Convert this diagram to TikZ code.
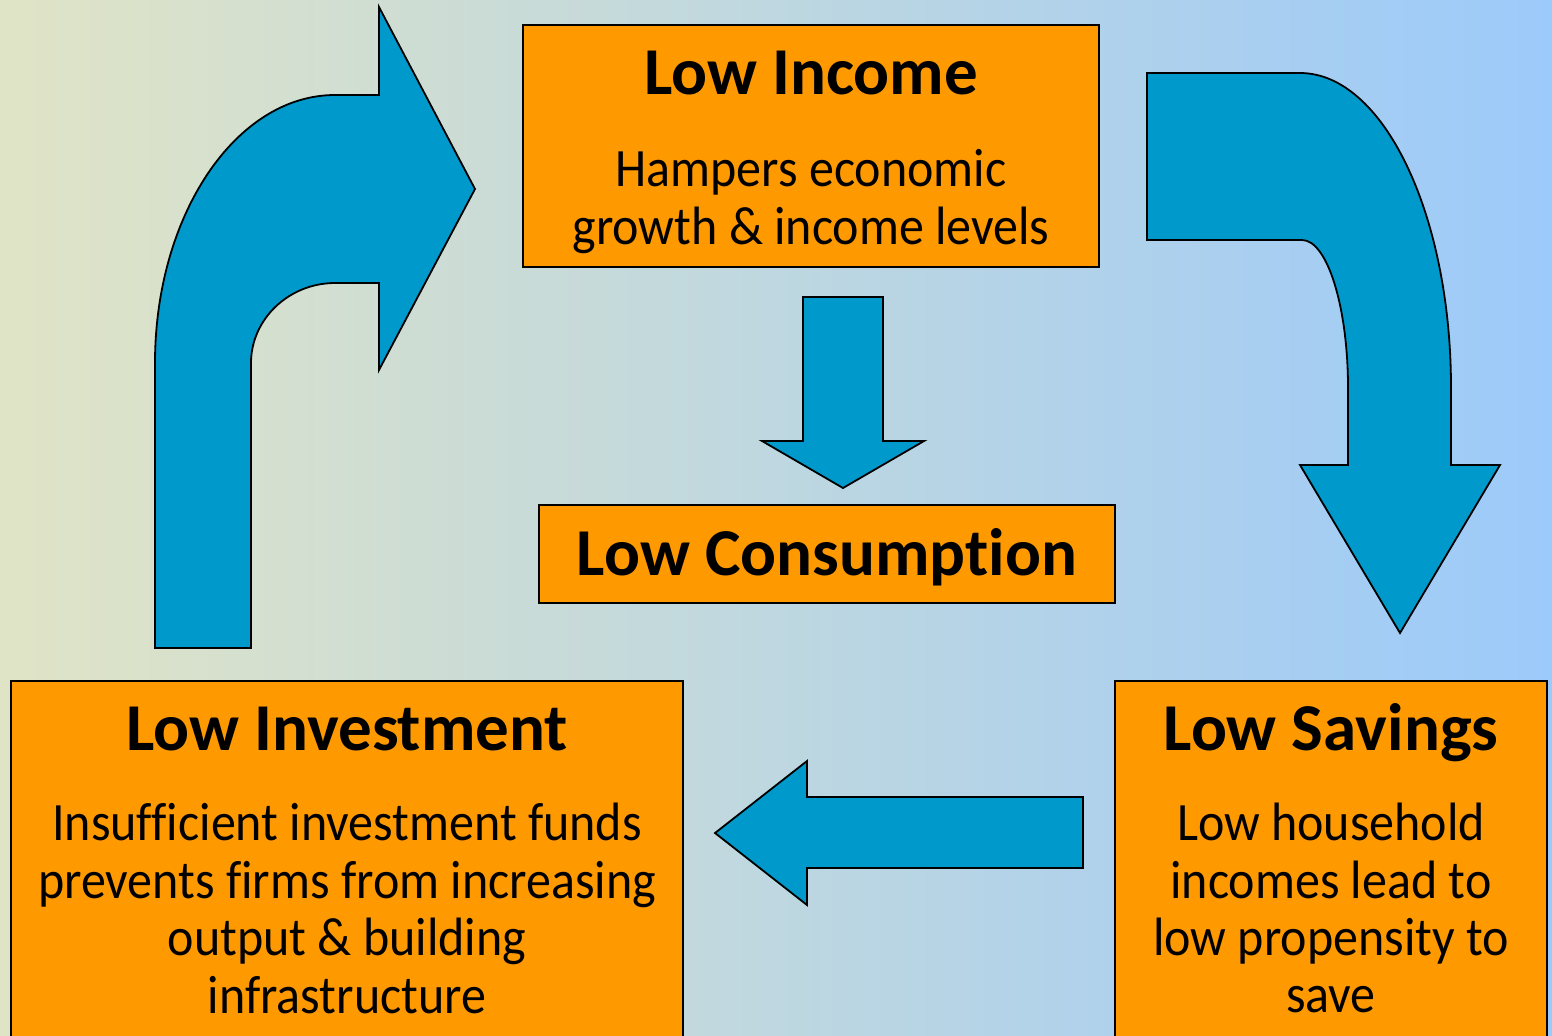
\documentclass[tikz,border=0pt]{standalone}
\usepackage{fontspec}
\setmainfont{Carlito}[Ligatures={NoCommon}]
\definecolor{bgL}{HTML}{E0E4C6}
\definecolor{bgR}{HTML}{9CCAFA}
\definecolor{arrowblue}{HTML}{0099CC}
\definecolor{boxorange}{HTML}{FF9900}
\newcommand{\bodyline}[1]{\scalebox{1}[1.08]{#1}}
\tikzset{
  box/.style={draw=black, line width=1pt, fill=boxorange},
  blockarrow/.style={draw=black, line width=0.9pt, fill=arrowblue, line join=miter},
  title/.style={anchor=base, inner sep=0pt, font=\fontsize{33.5}{40}\selectfont\bfseries},
  body/.style={anchor=base, inner sep=0pt, font=\fontsize{25}{30}\selectfont},
}
\begin{document}
\begin{tikzpicture}[x=0.5pt,y=-0.5pt]
\useasboundingbox (0,0) rectangle (1552,1035);
\clip (0,0) rectangle (1552,1035);
\shade[left color=bgL, right color=bgR] (0,0) rectangle (1552,1035);

% boxes
\draw[box] (523,25) rectangle (1099,267);
\draw[box] (539,505) rectangle (1115,603);
\draw[box] (11,681) rectangle (683,1045);
\draw[box] (1115,681) rectangle (1547,1045);

% texts
\node[title] (t1) at (811,94) {Low Income};
\node[body] (b11) at (811,186) {\bodyline{Hampers economic}};
\node[body] (b12) at (811,244) {\bodyline{growth \& income levels}};

\node[title] (t2) at (827,575) {Low Consumption};

\node[title] (t3) at (347,750) {Low Investment};
\node[body] (b31) at (347,840) {\bodyline{Insufficient investment funds}};
\node[body] (b32) at (347,898) {\bodyline{prevents firms from increasing}};
\node[body] (b33) at (347,955) {\bodyline{output \& building}};
\node[body] (b34) at (347,1013) {\bodyline{infrastructure}};

\node[title] (t4) at (1331,750) {Low Savings};
\node[body] (b41) at (1331,840) {\bodyline{Low household}};
\node[body] (b42) at (1331,898) {\bodyline{incomes lead to}};
\node[body] (b43) at (1331,955) {\bodyline{low propensity to}};
\node[body] (b44) at (1331,1012) {\bodyline{save}};

% curved arrow up-right (investment -> income)
\draw[blockarrow] (155,648) -- (155,363) .. controls (155,215) and (236,95) .. (335,95)
  -- (379,95) -- (379,7) -- (475,189) -- (379,370) -- (379,283) -- (335,283)
  .. controls (289,283) and (251,319) .. (251,363) -- (251,648) -- cycle;

% curved arrow right-down (income -> savings)
\draw[blockarrow] (1147,73) -- (1300,73) .. controls (1383,73) and (1451,214) .. (1451,388)
  -- (1451,465) -- (1500,465) -- (1400,633) -- (1300,465) -- (1348,465) -- (1348,388)
  .. controls (1348,306) and (1327,240) .. (1302,240) -- (1147,240) -- cycle;

% down arrow (income -> consumption)
\draw[blockarrow] (803,297) -- (883,297) -- (883,441) -- (924,441) -- (843,488)
  -- (762,441) -- (803,441) -- cycle;

% left arrow (savings -> investment)
\draw[blockarrow] (1083,797) -- (1083,868) -- (807,868) -- (807,905) -- (715,833)
  -- (807,761) -- (807,797) -- cycle;
\end{tikzpicture}
\end{document}
